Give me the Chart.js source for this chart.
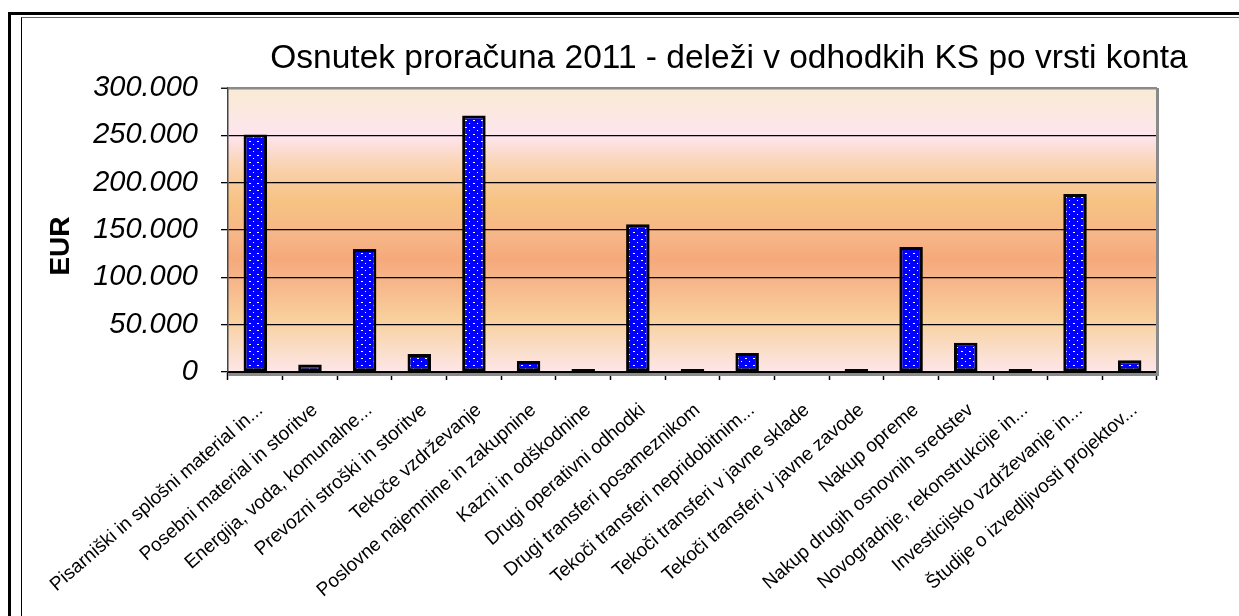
<!DOCTYPE html>
<html>
<head>
<meta charset="utf-8">
<script src="https://cdn.jsdelivr.net/npm/chart.js@4.4.0/dist/chart.umd.min.js"></script>
<style>
  html, body { margin: 0; padding: 0; background: #fff; overflow: hidden; }
  #wrap { position: relative; width: 1239px; height: 616px; }
  #wrap canvas { position: absolute; left: 0; top: 0; }
  .frame1 { position: absolute; left: 8px; top: 12px; right: -10px; bottom: -10px; border-left: 3px solid #000; border-top: 3px solid #000; }
  .frame2 { position: absolute; left: 21px; top: 17px; right: -10px; bottom: -10px; border-left: 1px solid #000; border-top: 1px solid #666; }
</style>
</head>
<body>
<div id="wrap">
  <canvas id="budgetChart" width="1239" height="616"></canvas>
  <div class="frame1"></div>
  <div class="frame2"></div>
</div>
<script>
const chartTitle = 'Osnutek proračuna 2011 - deleži v odhodkih KS po vrsti konta';
const yAxisTitle = 'EUR';

const categories = [
    'Pisarniški in splošni material in...',
    'Posebni material in storitve',
    'Energija, voda, komunalne...',
    'Prevozni stroški in storitve',
    'Tekoče vzdrževanje',
    'Poslovne najemnine in zakupnine',
    'Kazni in odškodnine',
    'Drugi operativni odhodki',
    'Drugi transferi posameznikom',
    'Tekoči transferi nepridobitnim...',
    'Tekoči transferi v javne sklade',
    'Tekoči transferi v javne zavode',
    'Nakup opreme',
    'Nakup drugih osnovnih sredstev',
    'Novogradnje, rekonstrukcije in...',
    'Investicijsko vzdrževanje in...',
    'Študije o izvedljivosti projektov...'
];

// EUR, odčitano s slike
const amounts = [
    251000, 8000, 130000, 19000, 271000, 11500, 300, 156000, 300,
    20000, null, 400, 132000, 31000, 3000, 188000, 12500
];

const yTicks = [0, 50000, 100000, 150000, 200000, 250000, 300000];

const fontFamily = '"Liberation Sans", Arial, sans-serif';

function makeDotPattern(ctx) {
    const c = document.createElement('canvas');
    c.width = 8;
    c.height = 7;
    const g = c.getContext('2d');
    g.fillStyle = '#0000ff';
    g.fillRect(0, 0, 8, 7);
    g.fillStyle = '#ffffff';
    g.fillRect(1, 1, 2, 1);
    g.fillRect(5, 4, 1, 1);
    return ctx.createPattern(c, 'repeat');
}

function formatEur(v) {
    return String(v).replace(/\B(?=(\d{3})+(?!\d))/g, '.');
}

// ozadje risalne površine z barvnim prelivom
const plotBackground = {
    id: 'plotBackground',
    beforeDraw(chart) {
        const { ctx, chartArea: a } = chart;
        const grad = ctx.createLinearGradient(0, a.top, 0, a.bottom);
        grad.addColorStop(0.00, '#f8ebd3');
        grad.addColorStop(0.09, '#fbe8e2');
        grad.addColorStop(0.17, '#fde5ee');
        grad.addColorStop(0.27, '#fad3b2');
        grad.addColorStop(0.40, '#f7c282');
        grad.addColorStop(0.52, '#f6b688');
        grad.addColorStop(0.60, '#f6a97b');
        grad.addColorStop(0.70, '#f7b98c');
        grad.addColorStop(0.81, '#f9cf9c');
        grad.addColorStop(0.91, '#fadcc4');
        grad.addColorStop(1.00, '#fde6e8');
        ctx.save();
        ctx.fillStyle = grad;
        ctx.fillRect(a.left, a.top, a.right - a.left, a.bottom - a.top);
        ctx.restore();
    }
};

// siva "tla" in desna stena kot v Excelu
const plotWalls = {
    id: 'plotWalls',
    beforeDatasetsDraw(chart) {
        const { ctx, chartArea: a } = chart;
        ctx.save();
        ctx.fillStyle = '#8a8a8a';
        ctx.fillRect(a.left, a.bottom + 1, a.right - a.left + 2, 3);
        ctx.fillRect(a.right - 1, a.top, 3, a.bottom - a.top + 4);
        ctx.restore();
    }
};

const chartTexts = {
    id: 'chartTexts',
    afterDraw(chart) {
        const ctx = chart.ctx;
        ctx.save();
        ctx.fillStyle = '#000';
        ctx.font = '33.5px ' + fontFamily;
        ctx.textAlign = 'center';
        ctx.textBaseline = 'alphabetic';
        ctx.fillText(chartTitle, 729, 68);

        ctx.translate(61, 246);
        ctx.rotate(-Math.PI / 2);
        ctx.font = 'bold 28px ' + fontFamily;
        ctx.textBaseline = 'middle';
        ctx.fillText(yAxisTitle, 0, 0);
        ctx.restore();
    }
};

const canvas = document.getElementById('budgetChart');
const ctx = canvas.getContext('2d');

new Chart(ctx, {
    type: 'bar',
    data: {
        labels: categories,
        datasets: [{
            label: yAxisTitle,
            data: amounts,
            backgroundColor: makeDotPattern(ctx),
            borderColor: '#000',
            borderWidth: 3,
            borderSkipped: false,
            minBarLength: 3,
            barPercentage: 0.43,
            categoryPercentage: 1.0
        }]
    },
    options: {
        responsive: false,
        animation: false,
        devicePixelRatio: 1,
        layout: {
            padding: { top: 88, right: 82, left: 0, bottom: 0 }
        },
        plugins: {
            legend: { display: false },
            tooltip: { enabled: false },
            title: { display: false }
        },
        scales: {
            x: {
                offset: true,
                afterFit(scale) { scale.height = 244; },
                grid: {
                    offset: true,
                    drawOnChartArea: false,
                    drawTicks: true,
                    tickLength: 8,
                    tickColor: '#000',
                    tickWidth: 1.5
                },
                border: { display: true, color: '#000', width: 2 },
                ticks: {
                    autoSkip: false,
                    maxRotation: 41,
                    minRotation: 41,
                    padding: 19,
                    labelOffset: 5,
                    color: '#000',
                    font: { family: fontFamily, size: 19 }
                }
            },
            y: {
                min: 0,
                max: 300000,
                afterFit(scale) { scale.width = 228; },
                afterBuildTicks(scale) {
                    scale.ticks = yTicks.map(v => ({ value: v }));
                },
                grid: {
                    color: c => (c.tick && c.tick.value === 300000) ? '#8a8a8a' : '#000',
                    lineWidth: c => (c.tick && c.tick.value === 300000) ? 2.5 : 1.3,
                    tickLength: 7,
                    tickColor: '#000',
                    tickWidth: 1.3
                },
                border: { display: true, color: '#444', width: 1.5 },
                ticks: {
                    padding: 23,
                    color: '#000',
                    font: { family: fontFamily, size: 29, style: 'italic' },
                    callback: v => formatEur(v)
                }
            }
        }
    },
    plugins: [plotBackground, plotWalls, chartTexts]
});
</script>
</body>
</html>
